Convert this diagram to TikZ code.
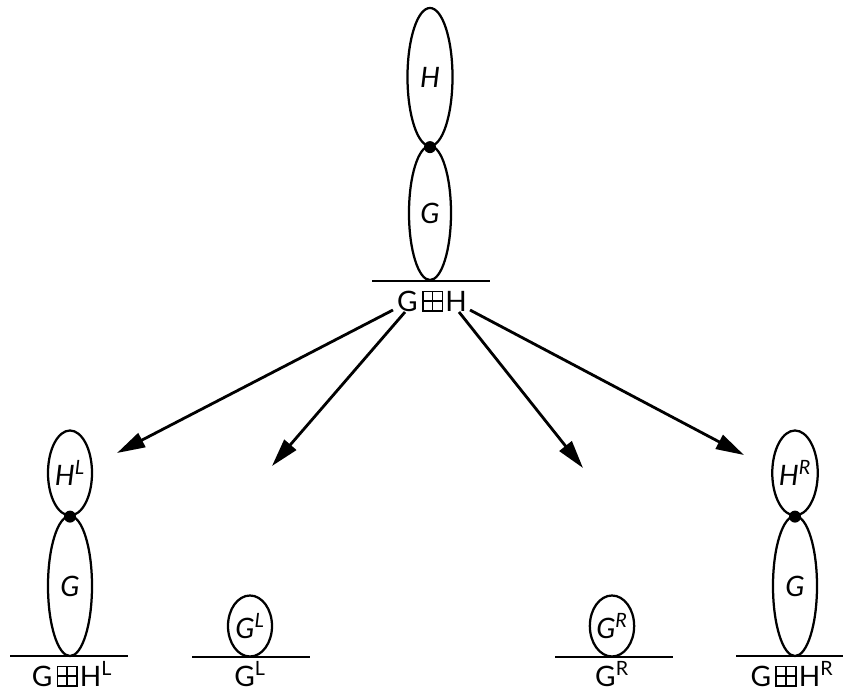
\documentclass[tikz,border=0pt]{standalone}
\usepackage{fontspec}
\setmainfont{Lato}
\usetikzlibrary{shapes.geometric,arrows.meta}
\newcommand{\bplus}{\tikz[baseline=0pt,x=1pt,y=1pt,line width=1.1pt]{\draw (0,0) rectangle (14,14); \draw (7,0) -- (7,14) (0,7) -- (14,7);}}
\newcommand{\upmark}[1]{\textsuperscript{#1}}

\begin{document}
\begin{tikzpicture}[x=0.025cm,y=-0.025cm,
    blob/.style={ellipse, draw, line width=1.6pt, inner sep=0pt, minimum width=1.1cm, font=\fontsize{20}{23}\selectfont\itshape},
    lbl/.style={font=\fontsize{20}{23}\selectfont, inner sep=0pt, anchor=base},
    base/.style={line width=1.7pt},
    arr/.style={-{Triangle[length=20pt,width=11pt]}, line width=2pt}
]
\useasboundingbox (0,0) rectangle (843,692);

% top graph
\node[blob, minimum width=1.125cm, minimum height=3.45cm] (h) at (430,77) {H};
\node[blob, minimum width=1.05cm, minimum height=3.35cm] (g) at (430,213) {G};
\fill (h.south) circle (0.15cm);
\coordinate (tl) at (372,281);
\coordinate (tr) at (490,281);
\draw[base] (tl) -- (tr);
\node[lbl] (gh) at (432,311) {G\kern3pt\bplus\kern1.5pt H};

% left: G box H^L
\node[blob, minimum height=2.125cm] (hl) at (70,473) {H\upmark{L}};
\node[blob, minimum height=3.5cm] (gl) at (70,586) {G};
\fill (hl.south) circle (0.15cm);
\coordinate (ll) at (10,656);
\coordinate (lr) at (128,656);
\draw[base] (ll) -- (lr);
\node[lbl] (ghl) at (72,686) {G\kern3pt\bplus\kern1.5pt H\upmark{L}};

% G^L
\node[blob, minimum height=1.525cm] (gll) at (250,626) {G\upmark{L}};
\coordinate (gla) at (192,657);
\coordinate (glb) at (310,657);
\draw[base] (gla) -- (glb);
\node[lbl] (glt) at (250,686) {G\upmark{L}};

% G^R
\node[blob, minimum height=1.525cm] (grr) at (612,626) {G\upmark{R}};
\coordinate (gra) at (555,657);
\coordinate (grb) at (673,657);
\draw[base] (gra) -- (grb);
\node[lbl] (grt) at (612,686) {G\upmark{R}};

% right: G box H^R
\node[blob, minimum height=2.125cm] (hr) at (795,473) {H\upmark{R}};
\node[blob, minimum height=3.5cm] (gr) at (795,586) {G};
\fill (hr.south) circle (0.15cm);
\coordinate (rl) at (736,656);
\coordinate (rr) at (843,656);
\draw[base] (rl) -- (rr);
\node[lbl] (ghr) at (792,686) {G\kern3pt\bplus\kern1.5pt H\upmark{R}};

% moves
\coordinate (a1) at (393,310);
\coordinate (b1) at (117,453);
\coordinate (a2) at (405,312);
\coordinate (b2) at (272,466);
\coordinate (a3) at (459,312);
\coordinate (b3) at (583,468);
\coordinate (a4) at (470,310);
\coordinate (b4) at (744,455);
\draw[arr] (a1) -- (b1);
\draw[arr] (a2) -- (b2);
\draw[arr] (a3) -- (b3);
\draw[arr] (a4) -- (b4);

\end{tikzpicture}
\end{document}
